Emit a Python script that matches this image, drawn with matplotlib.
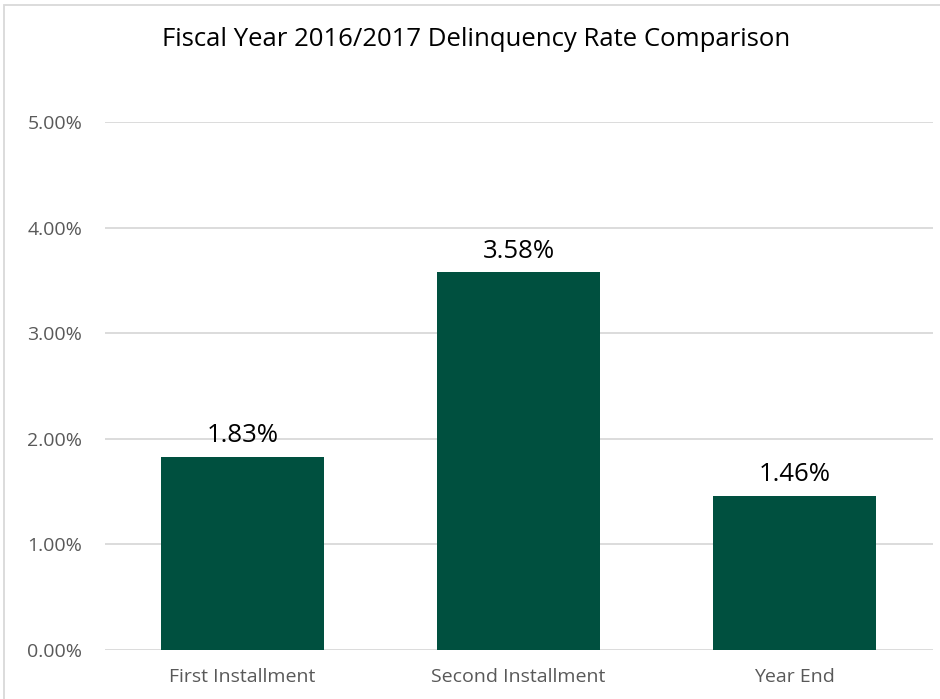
import matplotlib
matplotlib.use("Agg")
import matplotlib.pyplot as plt
from matplotlib.patches import Rectangle
from matplotlib.ticker import FuncFormatter, MultipleLocator

categories = ["First Installment", "Second Installment", "Year End"]
rates = [1.83, 3.58, 1.46]  # percent
title = "Fiscal Year 2016/2017 Delinquency Rate Comparison"

W, H = 940, 699
fig = plt.figure(figsize=(W / 100, H / 100), dpi=100)
plt.rcParams['font.family'] = ['Open Sans', 'DejaVu Sans']

left, right, y0, y5 = 104.5, 932.5, 650, 122
ax = fig.add_axes([left / W, 1 - y0 / H, (right - left) / W, (y0 - y5) / H])

x = list(range(len(categories)))
bars = ax.bar(x, rates, width=0.59, color="#00503F", zorder=3)
ax.set_xlim(-0.5, len(categories) - 0.5)
ax.set_ylim(0, 5)
ax.yaxis.set_major_locator(MultipleLocator(1))
ax.yaxis.set_major_formatter(FuncFormatter(lambda v, p: f"{v:.2f}%"))
ax.grid(axis="y", color="#D9D9D9", linewidth=1.3, zorder=0)
for s in ax.spines.values():
    s.set_visible(False)
ax.tick_params(axis="both", length=0, labelsize=14, colors="#595959")
ax.tick_params(axis="x", pad=13)
ax.tick_params(axis="y", pad=16)
ax.set_xticks(x)
ax.set_xticklabels(categories)

for xi, v in zip(x, rates):
    ax.annotate(f"{v:.2f}%", (xi, v), xytext=(0, 6), textcoords="offset points",
                ha="center", va="bottom", fontsize=18.5, color="#000000")

fig.text(476 / W, 1 - 39 / H, title, ha="center", va="center", fontsize=18.5, color="#000000")

fig.patches.append(Rectangle((4 / W, -0.01), 1.0, 1 - 5 / H + 0.01, transform=fig.transFigure,
                             fill=False, edgecolor="#D9D9D9", linewidth=1.3))

fig.savefig("out.png", dpi=100)
